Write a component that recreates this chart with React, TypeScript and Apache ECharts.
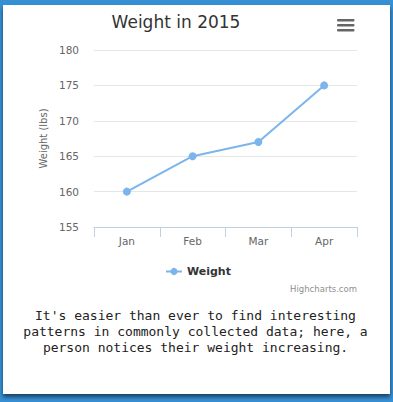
import React, { useEffect, useRef } from "react";
import * as echarts from "echarts";

// Monthly weigh-ins for 2015
const months = ["Jan", "Feb", "Mar", "Apr"];
const weights = [160, 165, 167, 175];
const yTicks = { min: 155, max: 180, interval: 5 };

const captionLines = [
  "It's easier than ever to find interesting",
  "patterns in commonly collected data; here, a",
  "person notices their weight increasing.",
];

const SANS = "'DejaVu Sans', Verdana, sans-serif";
const MONO = "'DejaVu Sans Mono', monospace";
const LINE_BLUE = "#7cb5ec";

export default function App() {
  const ref = useRef<HTMLDivElement>(null);

  useEffect(() => {
    if (!ref.current) return;
    const chart = echarts.init(ref.current, null, { renderer: "svg" });

    const menuBars = [19, 24, 29].map((y) => ({
      type: "rect",
      shape: { x: 337, y, width: 17.5, height: 2.6, r: 1 },
      style: { fill: "#666" },
    }));

    const caption = captionLines.map((line, i) => ({
      type: "text",
      x: 195.5,
      y: 315 + i * 16,
      style: {
        text: line,
        fill: "#222",
        font: `13px ${MONO}`,
        textAlign: "center",
        textVerticalAlign: "middle",
      },
    }));

    chart.setOption({
      animation: false,
      backgroundColor: "transparent",
      grid: { left: 94, right: 36, top: 50, bottom: 175 },
      xAxis: {
        type: "category",
        data: months,
        boundaryGap: true,
        axisLine: { lineStyle: { color: "#c0d0e0", width: 1 } },
        axisTick: { show: true, length: 10, interval: 0, lineStyle: { color: "#c0d0e0" } },
        axisLabel: { color: "#666", fontSize: 10.5, fontFamily: SANS, margin: 8 },
        splitLine: { show: false },
      },
      yAxis: {
        type: "value",
        min: yTicks.min,
        max: yTicks.max,
        interval: yTicks.interval,
        name: "Weight (lbs)",
        nameLocation: "middle",
        nameGap: 42,
        nameTextStyle: { color: "#666", fontSize: 10, fontFamily: SANS },
        axisLine: { show: false },
        axisTick: { show: false },
        axisLabel: { color: "#666", fontSize: 10.5, fontFamily: SANS, margin: 15 },
        splitLine: { lineStyle: { color: "#e6e6e6", width: 1 } },
      },
      legend: {
        left: 165,
        top: 266,
        padding: 0,
        itemWidth: 16,
        itemHeight: 9,
        textStyle: { color: "#333", fontSize: 11, fontWeight: "bold", fontFamily: SANS },
        data: ["Weight"],
      },
      series: [
        {
          name: "Weight",
          type: "line",
          data: weights,
          symbol: "circle",
          symbolSize: 8,
          showSymbol: true,
          lineStyle: { color: LINE_BLUE, width: 2 },
          itemStyle: { color: LINE_BLUE, borderWidth: 0 },
        },
      ],
      graphic: [
        {
          type: "text",
          x: 176,
          y: 22,
          style: {
            text: "Weight in 2015",
            fill: "#333",
            font: `17px ${SANS}`,
            textAlign: "center",
            textVerticalAlign: "middle",
          },
        },
        ...menuBars,
        {
          type: "text",
          x: 357,
          y: 289,
          style: {
            text: "Highcharts.com",
            fill: "#909090",
            font: `8.5px ${SANS}`,
            textAlign: "right",
            textVerticalAlign: "middle",
          },
        },
        ...caption,
      ],
    });

    return () => chart.dispose();
  }, []);

  return (
    <div
      style={{
        position: "fixed",
        left: 0,
        top: 0,
        width: 393,
        height: 402,
        background: "#3790d4",
        overflow: "hidden",
      }}
    >
      <div
        style={{
          position: "absolute",
          left: 3,
          top: 5,
          width: 387,
          height: 389,
          background: "#fff",
          boxShadow: "0 3px 4px rgba(0,0,0,0.55)",
        }}
      />
      <div ref={ref} style={{ position: "absolute", left: 0, top: 0, width: 393, height: 402 }} />
    </div>
  );
}
